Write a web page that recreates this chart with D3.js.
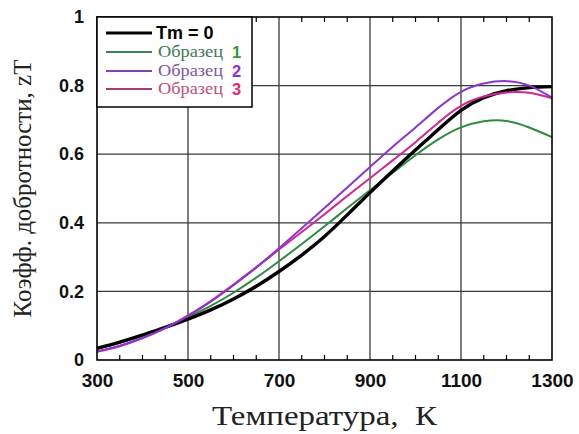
<!DOCTYPE html>
<html>
<head>
<meta charset="utf-8">
<script src="https://cdn.jsdelivr.net/npm/d3@7"></script>
<style>
  html, body { margin: 0; padding: 0; background: #fff; }
  svg { display: block; }
</style>
</head>
<body>
<svg id="chart" width="579" height="434"></svg>
<script>
// Temperature grid, K
const temperatures = [300, 350, 400, 450, 500, 550, 600, 650, 700, 750, 800, 850, 900, 950, 1000, 1050, 1100, 1150, 1200, 1250, 1300];

// Figure of merit zT for each sample
const ztBase    = [0.034, 0.052, 0.073, 0.095, 0.119, 0.146, 0.178, 0.215, 0.258, 0.306, 0.36, 0.423, 0.488, 0.551, 0.612, 0.672, 0.728, 0.765, 0.785, 0.794, 0.797];
const ztSample1 = [0.032, 0.05, 0.071, 0.096, 0.125, 0.158, 0.196, 0.24, 0.288, 0.338, 0.39, 0.443, 0.495, 0.546, 0.597, 0.643, 0.678, 0.696, 0.697, 0.678, 0.65];
const ztSample2 = [0.025, 0.042, 0.064, 0.093, 0.128, 0.17, 0.218, 0.27, 0.326, 0.384, 0.443, 0.503, 0.563, 0.622, 0.678, 0.735, 0.782, 0.806, 0.813, 0.8, 0.765];
const ztSample3 = [0.024, 0.04, 0.064, 0.093, 0.13, 0.172, 0.22, 0.27, 0.322, 0.373, 0.425, 0.478, 0.53, 0.582, 0.635, 0.692, 0.741, 0.768, 0.78, 0.779, 0.763];

const xTicks = [300, 500, 700, 900, 1100, 1300];
const xMinorTicks = d3.range(350, 1300, 50).filter(t => !xTicks.includes(t));
const yTicks = [0, 0.2, 0.4, 0.6, 0.8, 1];
const yTickLabels = ["0", "0.2", "0.4", "0.6", "0.8", "1"];

const seriesNames = ["Tm = 0", "Образец", "Образец", "Образец"];
const seriesNumbers = ["", "1", "2", "3"];

const svg = d3.select("#chart");
const margin = { left: 97, right: 27, top: 17, bottom: 74 };
const W = 579, H = 434;
const innerW = W - margin.left - margin.right;
const innerH = H - margin.top - margin.bottom;

const x = d3.scaleLinear().domain([300, 1300]).range([margin.left, margin.left + innerW]);
const y = d3.scaleLinear().domain([0, 1]).range([margin.top + innerH, margin.top]);

const series = [
  { values: ztBase,    color: "#000000", width: 3.4, legendColor: "#000000", textColor: "#000000", numColor: "#000000" },
  { values: ztSample1, color: "#2f8a3c", width: 2.0, legendColor: "#3a8550", textColor: "#3d7a52", numColor: "#2e9a3e" },
  { values: ztSample2, color: "#8a35d0", width: 2.0, legendColor: "#7d45b5", textColor: "#7c55a8", numColor: "#8a2fd0" },
  { values: ztSample3, color: "#d0288c", width: 2.0, legendColor: "#a83a78", textColor: "#c0507a", numColor: "#e0287a" }
];

// Grid lines
const grid = svg.append("g");
grid.selectAll("line.gx").data(xTicks.slice(1, -1)).enter().append("line")
  .attr("x1", d => x(d)).attr("x2", d => x(d))
  .attr("y1", y(0)).attr("y2", y(1))
  .attr("stroke", "#3a3a3a").attr("stroke-width", 1.3);
grid.selectAll("line.gy").data(yTicks.slice(1, -1)).enter().append("line")
  .attr("x1", x(300)).attr("x2", x(1300))
  .attr("y1", d => y(d)).attr("y2", d => y(d))
  .attr("stroke", "#3a3a3a").attr("stroke-width", 1.3);

// Minor ticks on bottom and top, pointing inward
const minor = svg.append("g").attr("stroke", "#000").attr("stroke-width", 1.2);
minor.selectAll("line.b").data(xMinorTicks).enter().append("line")
  .attr("x1", d => x(d)).attr("x2", d => x(d))
  .attr("y1", y(0)).attr("y2", y(0) - 5);
minor.selectAll("line.t").data(xMinorTicks).enter().append("line")
  .attr("x1", d => x(d)).attr("x2", d => x(d))
  .attr("y1", y(1)).attr("y2", y(1) + 5);

// Curves
const line = d3.line()
  .x((d, i) => x(temperatures[i]))
  .y(d => y(d))
  .curve(d3.curveNatural);

const drawOrder = [1, 0, 3, 2];
svg.append("g")
  .selectAll("path").data(drawOrder.map(i => series[i])).enter().append("path")
  .attr("d", d => line(d.values))
  .attr("fill", "none")
  .attr("stroke", d => d.color)
  .attr("stroke-width", d => d.width)
  .attr("stroke-linejoin", "round");

// Frame
svg.append("rect")
  .attr("x", x(300)).attr("y", y(1))
  .attr("width", x(1300) - x(300)).attr("height", y(0) - y(1))
  .attr("fill", "none").attr("stroke", "#000").attr("stroke-width", 1.6);

// Tick labels
const xAxis = d3.axisBottom(x).tickValues(xTicks).tickSize(0).tickPadding(14).tickFormat(d3.format("d"));
const gx = svg.append("g").attr("transform", `translate(0,${y(0)})`).call(xAxis);
gx.select(".domain").remove();
gx.selectAll("text")
  .attr("font-family", "'Liberation Sans', Arial, sans-serif")
  .attr("font-weight", "bold").attr("font-size", 19).attr("fill", "#111");

const yAxis = d3.axisLeft(y).tickValues(yTicks).tickSize(0).tickPadding(13)
  .tickFormat((d, i) => yTickLabels[i]);
const gy = svg.append("g").attr("transform", `translate(${x(300)},0)`).call(yAxis);
gy.select(".domain").remove();
gy.selectAll("text")
  .attr("font-family", "'Liberation Sans', Arial, sans-serif")
  .attr("font-weight", "bold").attr("font-size", 18).attr("fill", "#111");

// Axis titles
svg.append("text")
  .attr("x", (x(300) + x(1300)) / 2).attr("y", 425)
  .attr("text-anchor", "middle")
  .attr("font-family", "'Liberation Serif', 'Times New Roman', serif")
  .attr("font-size", 27).attr("fill", "#222")
  .attr("textLength", 225).attr("lengthAdjust", "spacingAndGlyphs")
  .attr("xml:space", "preserve")
  .text("Температура,  К");

svg.append("text")
  .attr("transform", `translate(31,${(y(0) + y(1)) / 2}) rotate(-90)`)
  .attr("text-anchor", "middle")
  .attr("font-family", "'Liberation Serif', 'Times New Roman', serif")
  .attr("font-size", 25).attr("fill", "#222")
  .text("Коэфф. добротности, zT");

// Legend
const lg = svg.append("g");
lg.append("rect")
  .attr("x", x(300)).attr("y", y(1))
  .attr("width", 155).attr("height", 90)
  .attr("fill", "#fff").attr("stroke", "#000").attr("stroke-width", 1.5);

const rowY = [33, 52, 71, 89];
series.forEach((s, i) => {
  const ry = rowY[i];
  lg.append("line")
    .attr("x1", 106).attr("x2", 152).attr("y1", ry).attr("y2", ry)
    .attr("stroke", s.legendColor).attr("stroke-width", i === 0 ? 3.2 : 2);
  if (i === 0) {
    lg.append("text").attr("x", 156).attr("y", ry + 6)
      .attr("font-family", "'Liberation Sans', Arial, sans-serif")
      .attr("font-weight", "bold").attr("font-size", 18).attr("fill", "#000")
      .text(seriesNames[i]);
  } else {
    lg.append("text").attr("x", 158).attr("y", ry + 5)
      .attr("font-family", "'Liberation Serif', 'Times New Roman', serif")
      .attr("font-size", 16).attr("fill", s.textColor)
      .attr("textLength", 65).attr("lengthAdjust", "spacingAndGlyphs")
      .text(seriesNames[i]);
    lg.append("text").attr("x", 232).attr("y", ry + 6)
      .attr("font-family", "'Liberation Sans', Arial, sans-serif")
      .attr("font-weight", "bold").attr("font-size", 16.5).attr("fill", s.numColor)
      .text(seriesNumbers[i]);
  }
});
</script>
</body>
</html>
